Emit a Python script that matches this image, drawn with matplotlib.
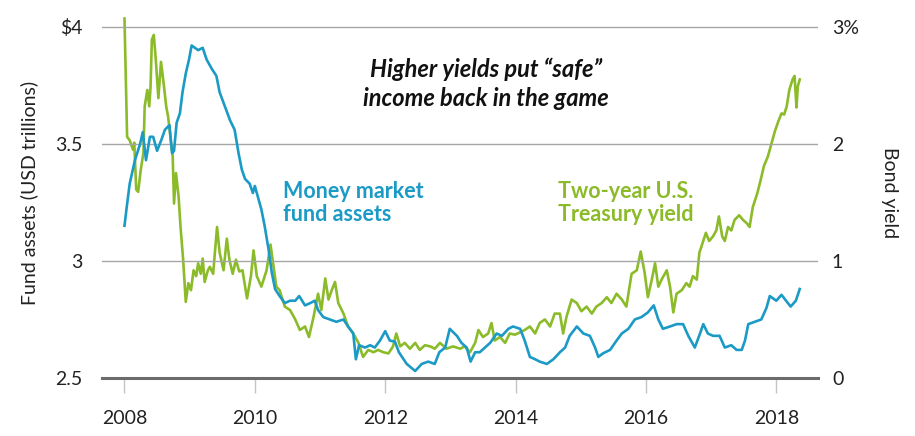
import numpy as np
import matplotlib
matplotlib.use("Agg")
import matplotlib.pyplot as plt

plt.rcParams['font.family'] = ['Lato', 'DejaVu Sans']

# money market fund assets (USD trillions)
mm_year = [2008.00, 2008.03, 2008.08, 2008.16, 2008.24, 2008.28, 2008.33, 2008.39, 2008.44, 2008.50,
           2008.57, 2008.62, 2008.69, 2008.73, 2008.76, 2008.80, 2008.85, 2008.89, 2008.94, 2008.99,
           2009.03, 2009.08, 2009.13, 2009.20, 2009.26, 2009.34, 2009.41, 2009.46, 2009.54, 2009.62,
           2009.69, 2009.75, 2009.80, 2009.85, 2009.92, 2009.97, 2010.00, 2010.07, 2010.10, 2010.15,
           2010.21, 2010.26, 2010.31, 2010.38, 2010.46, 2010.54, 2010.62, 2010.68, 2010.77, 2010.85,
           2010.92, 2010.97, 2011.05, 2011.15, 2011.25, 2011.36, 2011.43, 2011.51, 2011.55, 2011.60,
           2011.69, 2011.77, 2011.84, 2011.92, 2012.00, 2012.07, 2012.15, 2012.21, 2012.33, 2012.46,
           2012.56, 2012.66, 2012.76, 2012.83, 2012.92, 2012.99, 2013.10, 2013.17, 2013.25, 2013.31,
           2013.38, 2013.45, 2013.53, 2013.61, 2013.71, 2013.79, 2013.89, 2013.96, 2014.07, 2014.14,
           2014.22, 2014.30, 2014.37, 2014.48, 2014.58, 2014.68, 2014.76, 2014.83, 2014.94, 2015.04,
           2015.14, 2015.22, 2015.27, 2015.34, 2015.45, 2015.55, 2015.63, 2015.73, 2015.83, 2015.93,
           2016.03, 2016.12, 2016.19, 2016.26, 2016.37, 2016.47, 2016.57, 2016.65, 2016.75, 2016.83,
           2016.88, 2016.95, 2017.03, 2017.13, 2017.21, 2017.31, 2017.39, 2017.47, 2017.52, 2017.57,
           2017.67, 2017.77, 2017.85, 2017.90, 2018.00, 2018.08, 2018.15, 2018.22, 2018.30, 2018.36]
mm_assets = [3.15, 3.22, 3.33, 3.43, 3.50, 3.55, 3.43, 3.53, 3.53, 3.47,
             3.52, 3.56, 3.58, 3.46, 3.47, 3.59, 3.63, 3.72, 3.80, 3.86,
             3.92, 3.91, 3.90, 3.91, 3.86, 3.82, 3.79, 3.72, 3.66, 3.60,
             3.56, 3.46, 3.39, 3.35, 3.33, 3.29, 3.32, 3.25, 3.22, 3.15,
             3.05, 2.95, 2.88, 2.85, 2.82, 2.83, 2.83, 2.85, 2.81, 2.82,
             2.83, 2.79, 2.76, 2.75, 2.74, 2.75, 2.72, 2.69, 2.58, 2.64,
             2.63, 2.64, 2.63, 2.66, 2.70, 2.66, 2.655, 2.61, 2.56, 2.53,
             2.56, 2.57, 2.56, 2.61, 2.63, 2.71, 2.68, 2.65, 2.63, 2.57,
             2.61, 2.61, 2.63, 2.65, 2.69, 2.68, 2.71, 2.72, 2.71, 2.66,
             2.59, 2.58, 2.57, 2.56, 2.58, 2.61, 2.63, 2.68, 2.72, 2.69,
             2.68, 2.63, 2.59, 2.605, 2.62, 2.66, 2.69, 2.71, 2.75, 2.76,
             2.78, 2.81, 2.75, 2.71, 2.72, 2.73, 2.73, 2.68, 2.63, 2.69,
             2.73, 2.69, 2.68, 2.68, 2.63, 2.64, 2.62, 2.62, 2.66, 2.73,
             2.74, 2.75, 2.80, 2.85, 2.83, 2.855, 2.83, 2.805, 2.83, 2.88]

# two-year treasury yield (%)
ty_year = [2008.00, 2008.03, 2008.04, 2008.08, 2008.13, 2008.15, 2008.18, 2008.21, 2008.25, 2008.29,
           2008.31, 2008.35, 2008.38, 2008.40, 2008.42, 2008.45, 2008.48, 2008.52, 2008.56, 2008.60,
           2008.64, 2008.67, 2008.71, 2008.74, 2008.76, 2008.79, 2008.83, 2008.86, 2008.90, 2008.94,
           2008.98, 2009.02, 2009.06, 2009.10, 2009.13, 2009.17, 2009.20, 2009.23, 2009.28, 2009.31,
           2009.36, 2009.42, 2009.46, 2009.52, 2009.57, 2009.61, 2009.66, 2009.71, 2009.76, 2009.81,
           2009.88, 2009.94, 2009.98, 2010.03, 2010.10, 2010.18, 2010.24, 2010.28, 2010.33, 2010.38,
           2010.46, 2010.54, 2010.62, 2010.69, 2010.77, 2010.83, 2010.90, 2010.97, 2011.02, 2011.08,
           2011.13, 2011.18, 2011.23, 2011.28, 2011.36, 2011.43, 2011.51, 2011.59, 2011.66, 2011.74,
           2011.82, 2011.89, 2011.97, 2012.05, 2012.12, 2012.17, 2012.23, 2012.30, 2012.38, 2012.46,
           2012.53, 2012.61, 2012.69, 2012.76, 2012.84, 2012.94, 2013.04, 2013.15, 2013.22, 2013.30,
           2013.38, 2013.43, 2013.50, 2013.58, 2013.63, 2013.68, 2013.76, 2013.84, 2013.91, 2013.99,
           2014.07, 2014.14, 2014.22, 2014.30, 2014.37, 2014.45, 2014.53, 2014.60, 2014.68, 2014.73,
           2014.78, 2014.86, 2014.94, 2015.01, 2015.09, 2015.17, 2015.24, 2015.32, 2015.40, 2015.47,
           2015.55, 2015.63, 2015.70, 2015.78, 2015.86, 2015.92, 2015.98, 2016.03, 2016.09, 2016.14,
           2016.19, 2016.24, 2016.32, 2016.37, 2016.42, 2016.47, 2016.55, 2016.62, 2016.67, 2016.72,
           2016.78, 2016.82, 2016.85, 2016.92, 2016.97, 2017.03, 2017.08, 2017.12, 2017.17, 2017.21,
           2017.26, 2017.31, 2017.36, 2017.43, 2017.49, 2017.55, 2017.59, 2017.64, 2017.71, 2017.76,
           2017.81, 2017.87, 2017.93, 2017.98, 2018.03, 2018.08, 2018.12, 2018.16, 2018.20, 2018.25,
           2018.28, 2018.31, 2018.33, 2018.36]
ty_yield = [3.07, 2.29, 2.06, 2.03, 1.95, 2.01, 1.61, 1.59, 1.78, 1.92,
            2.32, 2.46, 2.32, 2.49, 2.89, 2.93, 2.72, 2.39, 2.70, 2.52,
            2.32, 2.23, 2.03, 1.89, 1.49, 1.75, 1.55, 1.29, 1.01, 0.65,
            0.81, 0.75, 0.92, 0.87, 0.98, 0.89, 1.02, 0.82, 0.92, 0.95,
            0.89, 1.29, 1.07, 0.92, 1.19, 1.01, 0.89, 1.01, 0.91, 0.92,
            0.68, 0.87, 1.09, 0.87, 0.78, 0.92, 1.14, 0.98, 0.78, 0.75,
            0.61, 0.58, 0.50, 0.41, 0.44, 0.35, 0.52, 0.72, 0.58, 0.85,
            0.67, 0.75, 0.82, 0.64, 0.55, 0.44, 0.38, 0.30, 0.18, 0.24,
            0.22, 0.24, 0.22, 0.21, 0.27, 0.38, 0.27, 0.30, 0.25, 0.30,
            0.24, 0.28, 0.27, 0.25, 0.30, 0.25, 0.27, 0.25, 0.27, 0.22,
            0.30, 0.41, 0.35, 0.38, 0.47, 0.32, 0.35, 0.30, 0.38, 0.37,
            0.39, 0.41, 0.44, 0.38, 0.47, 0.50, 0.44, 0.55, 0.55, 0.38,
            0.52, 0.67, 0.64, 0.57, 0.61, 0.55, 0.61, 0.64, 0.69, 0.64,
            0.72, 0.67, 0.61, 0.89, 0.92, 1.08, 0.90, 0.69, 0.84, 0.98,
            0.78, 0.84, 0.92, 0.78, 0.56, 0.72, 0.75, 0.81, 0.78, 0.87,
            0.84, 1.07, 1.12, 1.24, 1.17, 1.21, 1.26, 1.38, 1.21, 1.17,
            1.29, 1.26, 1.35, 1.39, 1.35, 1.32, 1.29, 1.46, 1.58, 1.69,
            1.81, 1.89, 2.01, 2.11, 2.19, 2.26, 2.25, 2.32, 2.46, 2.55,
            2.58, 2.31, 2.49, 2.55]

years = [2008, 2010, 2012, 2014, 2016, 2018]
left_ticks = [2.5, 3, 3.5, 4]
left_labels = ['2.5', '3', '3.5', '$4']
right_ticks = [0, 1, 2, 3]
right_labels = ['0', '1', '2', '3%']

blue = '#1b9ac6'
green = '#8cbb2a'
txt = '#222222'

fig = plt.figure(figsize=(9.15, 4.36), dpi=100)
ax = fig.add_axes([102 / 915, 58 / 436, 716 / 915, 370 / 436])
ax2 = ax.twinx()

ax.set_xlim(2007.655, 2018.64)
ax.set_ylim(2.5, 4.08)
ax2.set_ylim(0, 3.16)

for g in [3, 3.5, 4]:
    ax.axhline(g, color='#a6a6a6', lw=1, zorder=0)

ax2.plot(ty_year, ty_yield, color=green, lw=1.9, solid_joinstyle='round', zorder=2)
ax.plot(mm_year, mm_assets, color=blue, lw=1.9, solid_joinstyle='round', zorder=3)
ax.set_zorder(ax2.get_zorder() + 1)
ax.patch.set_visible(False)

for a in (ax, ax2):
    for s in ['top', 'left', 'right']:
        a.spines[s].set_visible(False)
ax2.spines['bottom'].set_visible(False)
ax.spines['bottom'].set_color('#6b6b6b')
ax.spines['bottom'].set_linewidth(2.2)

ax.set_xticks(years)
ax.set_xticklabels([str(y) for y in years])
ax.tick_params(axis='x', length=11, width=1, color='#c4c4c4', pad=12, labelsize=14, labelcolor=txt)
ax.set_yticks(left_ticks)
ax.set_yticklabels(left_labels)
ax.tick_params(axis='y', length=0, pad=14, labelsize=14, labelcolor=txt)
ax2.set_yticks(right_ticks)
ax2.set_yticklabels(right_labels)
ax2.tick_params(axis='y', length=0, pad=10, labelsize=14, labelcolor=txt)

ax.set_ylabel('Fund assets (USD trillions)', fontsize=14, color=txt, labelpad=12)
ax2.set_ylabel('Bond yield', fontsize=14, color=txt, rotation=270, labelpad=28)

fig.text(486 / 915, 1 - 84 / 436, 'Higher yields put \u201csafe\u201d\nincome back in the game',
         ha='center', va='center', fontsize=17, fontweight='bold', style='italic',
         color='#111111', linespacing=1.3)
fig.text(283 / 915, 1 - 203 / 436, 'Money market\nfund assets', ha='left', va='center',
         fontsize=15.5, fontweight='bold', color=blue, linespacing=1.15)
fig.text(558 / 915, 1 - 203 / 436, 'Two-year U.S.\nTreasury yield', ha='left', va='center',
         fontsize=15.5, fontweight='bold', color=green, linespacing=1.15)

fig.savefig('out.png', dpi=100)
